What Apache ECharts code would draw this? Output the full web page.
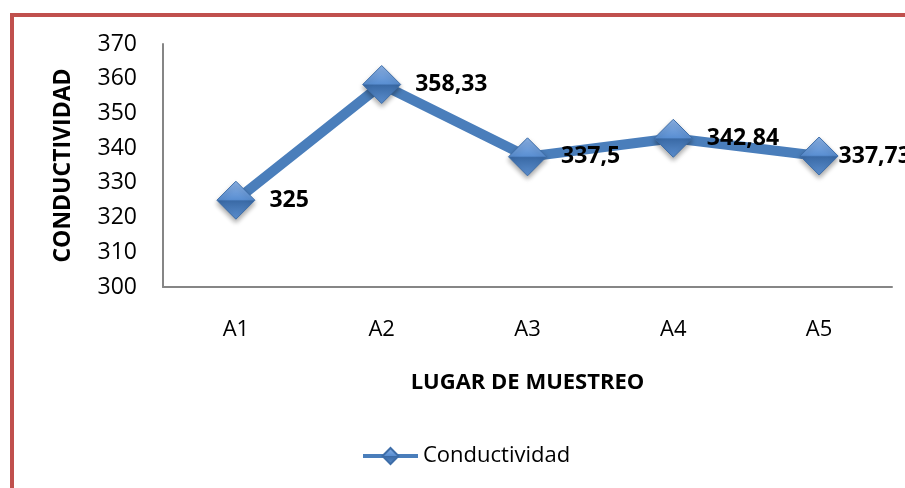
<!DOCTYPE html>
<html>
<head>
<meta charset="utf-8">
<script src="https://cdn.jsdelivr.net/npm/echarts@6/dist/echarts.min.js"></script>
<style>
html,body{margin:0;padding:0;background:#fff;}
#chart{width:905px;height:488px;}
</style>
</head>
<body>
<div id="chart"></div>
<script>
var categories = ['A1', 'A2', 'A3', 'A4', 'A5'];
var conductividad = [325, 358.33, 337.5, 342.84, 337.73];
var seriesName = 'Conductividad';
var yTitle = 'CONDUCTIVIDAD';
var xTitle = 'LUGAR DE MUESTREO';

var FONT = '"Open Sans", "Liberation Sans", sans-serif';
var chart = echarts.init(document.getElementById('chart'), null, {renderer: 'canvas'});

function fmt(v) { return String(v).replace('.', ','); }

var markerColor = {
  type: 'linear', x: 0, y: 0, x2: 0, y2: 1,
  colorStops: [
    {offset: 0, color: '#8db3e6'},
    {offset: 0.48, color: '#5a8fd2'},
    {offset: 0.52, color: '#3a6aa6'},
    {offset: 1, color: '#5d90d0'}
  ]
};

var seriesData = conductividad.map(function (v, i) {
  var d = {value: v};
  if (i === conductividad.length - 1) {
    d.label = {distance: 0};
  }
  return d;
});

chart.setOption({
  animation: false,
  textStyle: {fontFamily: FONT},
  grid: {left: 163, right: 13, top: 44, bottom: 201, containLabel: false},
  graphic: [
    {type: 'rect', left: 10, top: 13, shape: {width: 4, height: 480}, style: {fill: '#c0504d'}},
    {type: 'rect', left: 10, top: 13, shape: {width: 900, height: 4}, style: {fill: '#c0504d'}}
  ],
  legend: {
    data: [seriesName],
    left: 356, top: 440,
    itemWidth: 55, itemHeight: 20, itemGap: 5,
    lineStyle: {width: 4},
    textStyle: {fontFamily: FONT, fontSize: 22, color: '#000'}
  },
  xAxis: {
    type: 'category',
    data: categories,
    boundaryGap: true,
    axisLine: {show: true, lineStyle: {color: '#868686', width: 2}},
    axisTick: {show: false},
    axisLabel: {color: '#000', fontSize: 22, fontFamily: FONT, margin: 32},
    splitLine: {show: false},
    name: xTitle,
    nameLocation: 'middle',
    nameGap: 85,
    nameTextStyle: {color: '#000', fontSize: 22, fontWeight: 'bold', fontFamily: FONT}
  },
  yAxis: {
    type: 'value',
    min: 300, max: 370, interval: 10,
    axisLine: {show: true, lineStyle: {color: '#868686', width: 2}},
    axisTick: {show: false},
    splitLine: {show: false},
    axisLabel: {color: '#000', fontSize: 23, fontFamily: FONT, margin: 26},
    name: yTitle,
    nameLocation: 'middle',
    nameGap: 88,
    nameRotate: 90,
    nameTextStyle: {color: '#000', fontSize: 23, fontWeight: 'bold', fontFamily: FONT}
  },
  series: [{
    name: seriesName,
    type: 'line',
    data: seriesData,
    symbol: 'diamond',
    symbolSize: 38,
    lineStyle: {color: '#4a7ebb', width: 10},
    itemStyle: {
      color: markerColor,
      borderColor: '#3d6da8',
      borderWidth: 1,
      shadowBlur: 5,
      shadowColor: 'rgba(0,0,0,0.35)',
      shadowOffsetY: 3
    },
    label: {
      show: true,
      position: 'right',
      distance: 14,
      color: '#000',
      fontSize: 23,
      fontWeight: 'bold',
      fontFamily: FONT,
      formatter: function (p) { return fmt(p.value); }
    },
    z: 3
  }]
});
</script>
</body>
</html>
